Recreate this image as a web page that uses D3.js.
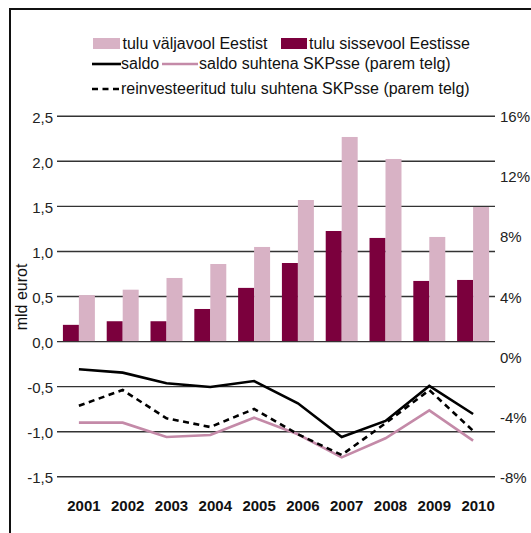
<!DOCTYPE html>
<html><head><meta charset="utf-8">
<script src="https://cdn.jsdelivr.net/npm/d3@7"></script>
<style>
html,body{margin:0;padding:0;background:#fff;}
svg{display:block;font-family:"Liberation Sans",Arial,Helvetica,sans-serif;}
</style></head>
<body>
<svg id="chart" width="531" height="533"></svg>
<script>
const years = ["2001","2002","2003","2004","2005","2006","2007","2008","2009","2010"];
const outflow = [0.51, 0.57, 0.70, 0.855, 1.044, 1.565, 2.264, 2.02, 1.155, 1.487];
const inflow = [0.18, 0.22, 0.22, 0.356, 0.59, 0.866, 1.221, 1.144, 0.667, 0.678];
const saldo = [-0.313, -0.35, -0.468, -0.509, -0.443, -0.69, -1.064, -0.886, -0.498, -0.809];
const saldoGdp = [-4.43, -4.43, -5.38, -5.25, -4.10, -5.20, -6.74, -5.47, -3.61, -5.63];
const reinvGdp = [-3.30, -2.26, -4.14, -4.72, -3.52, -5.20, -6.58, -4.47, -2.26, -4.97];
const leftTicks = [-1.5, -1.0, -0.5, 0.0, 0.5, 1.0, 1.5, 2.0, 2.5];
const rightTicks = [-8, -4, 0, 4, 8, 12, 16];

const LIGHT = "#d8b2c5", DARK = "#7b003d", PINKLINE = "#c48aa8";
const svg = d3.select("#chart");

// frame
svg.append("path").attr("d","M10,533 V9 H531").attr("fill","none").attr("stroke","#111").attr("stroke-width",2);

const x = d3.scaleBand().domain(years).range([57,495]).paddingInner(0.27).paddingOuter(0.135);
const y = d3.scaleLinear().domain([-1.5,2.5]).range([476.3,115.7]);
const yR = d3.scaleLinear().domain([-8,16]).range([476.3,115.7]);
const bw = x.bandwidth()/2;

// gridlines + left labels
const gl = d3.axisLeft(y).tickValues(leftTicks).tickSize(-(495-57)).tickPadding(5)
  .tickFormat(d => d3.format(".1f")(d).replace(".", ",").replace("−","-"));
const gL = svg.append("g").attr("transform","translate(57,0)").call(gl);
gL.select(".domain").remove();
gL.selectAll(".tick line").attr("stroke","#333").attr("stroke-width",1.4);
gL.selectAll(".tick text").attr("font-size",15).attr("fill","#222").attr("dy","0.42em").attr("x",-4);

// right labels
const gr = d3.axisRight(yR).tickValues(rightTicks).tickSize(0).tickPadding(0).tickFormat(d => d + "%");
const gR = svg.append("g").attr("transform","translate(500,0)").call(gr);
gR.select(".domain").remove();
gR.selectAll(".tick text").attr("font-size",15).attr("fill","#222").attr("dy","0.4em");

// bars
const bars = svg.append("g");
bars.selectAll("rect.in").data(years).join("rect").attr("class","in")
  .attr("x", d => x(d)).attr("width", bw)
  .attr("y", (d,i) => y(inflow[i])).attr("height", (d,i) => y(0) - y(inflow[i]))
  .attr("fill", DARK);
bars.selectAll("rect.out").data(years).join("rect").attr("class","out")
  .attr("x", d => x(d) + bw).attr("width", bw)
  .attr("y", (d,i) => y(outflow[i])).attr("height", (d,i) => y(0) - y(outflow[i]))
  .attr("fill", LIGHT);

const cx = d => x(d) + x.bandwidth()/2;
const lineL = d3.line().x((d,i) => cx(years[i])).y(d => y(d));
const lineR = d3.line().x((d,i) => cx(years[i])).y(d => yR(d));

svg.append("path").datum(saldoGdp).attr("d", lineR).attr("fill","none").attr("stroke",PINKLINE).attr("stroke-width",2.6);
svg.append("path").datum(reinvGdp).attr("d", lineR).attr("fill","none").attr("stroke","#000").attr("stroke-width",2.6).attr("stroke-dasharray","6,4.5");
svg.append("path").datum(saldo).attr("d", lineL).attr("fill","none").attr("stroke","#000").attr("stroke-width",2.6);

// x labels
svg.append("g").selectAll("text").data(years).join("text")
  .attr("x", d => cx(d) + 5).attr("y", 511).attr("text-anchor","middle")
  .attr("font-size",15).attr("font-weight","bold").attr("fill","#111").text(d => d);

// y axis title
svg.append("text").attr("transform","translate(27,297) rotate(-90)").attr("text-anchor","middle")
  .attr("font-size",16).attr("fill","#111").text("mld eurot");

// legend
const lg = svg.append("g").attr("font-size",16).attr("fill","#111");
lg.append("rect").attr("x",93).attr("y",38).attr("width",27).attr("height",11).attr("fill",LIGHT);
lg.append("text").attr("x",122.5).attr("y",49).text("tulu väljavool Eestist");
lg.append("rect").attr("x",281).attr("y",38).attr("width",26).attr("height",11).attr("fill",DARK);
lg.append("text").attr("x",309).attr("y",49).text("tulu sissevool Eestisse");
lg.append("line").attr("x1",92).attr("x2",121).attr("y1",64).attr("y2",64).attr("stroke","#000").attr("stroke-width",2.6);
lg.append("text").attr("x",121).attr("y",69).text("saldo");
lg.append("line").attr("x1",162).attr("x2",198).attr("y1",64).attr("y2",64).attr("stroke",PINKLINE).attr("stroke-width",2.6);
lg.append("text").attr("x",199).attr("y",69).text("saldo suhtena SKPsse (parem telg)");
lg.append("line").attr("x1",92).attr("x2",121).attr("y1",89).attr("y2",89).attr("stroke","#000").attr("stroke-width",2.6).attr("stroke-dasharray","6,4.5");
lg.append("text").attr("x",121).attr("y",93.5).text("reinvesteeritud tulu suhtena SKPsse (parem telg)");
</script>
</body></html>
